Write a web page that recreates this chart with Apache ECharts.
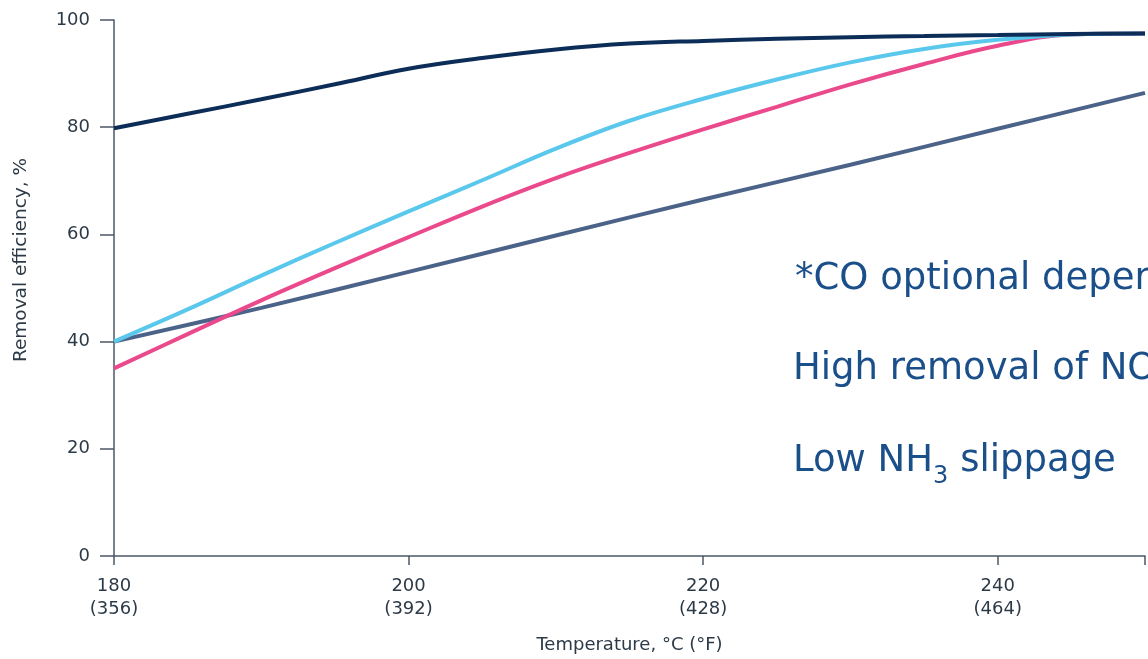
<!DOCTYPE html>
<html>
<head>
<meta charset="utf-8">
<script src="https://cdn.jsdelivr.net/npm/echarts@6/dist/echarts.min.js"></script>
<style>
html,body{margin:0;padding:0;background:#fff;overflow:hidden;}
#c{width:1148px;height:659px;}
</style>
</head>
<body>
<div id="c"></div>
<script>
// Temperature, °C
const xTicksC = [180, 200, 220, 240];
const xTicksF = {180: 356, 200: 392, 220: 428, 240: 464};
const yTicks = [0, 20, 40, 60, 80, 100];

// Series: [temperature °C, removal efficiency %]
const navyLine = [[180,79.8],[185,82.5],[190,85.2],[195,88],[200,90.9],[205,92.9],[210,94.5],[215,95.6],[220,96.1],[225,96.5],[230,96.8],[235,97],[240,97.2],[245,97.4],[250,97.5]];
const cyanLine = [[180,40],[185,46],[190,52.3],[195,58.4],[200,64.3],[205,70.1],[210,76],[215,81.2],[220,85.3],[225,88.9],[230,92.1],[235,94.6],[240,96.3],[245,97.3],[250,97.5]];
const pinkLine = [[180,35],[185,41.4],[190,47.7],[195,53.7],[200,59.5],[205,65.2],[210,70.5],[215,75.2],[220,79.6],[225,83.8],[230,88],[235,91.8],[240,95.2],[245,97.3],[250,97.5]];
const slateLine = [[180,40],[190,46.3],[200,53],[210,59.8],[220,66.5],[230,73],[240,79.7],[250,86.4]];

const axisColor = '#4a5866';
const textColor = '#2c3a48';
const font = '"DejaVu Sans", Verdana, sans-serif';
const blue = '#1a4f8a';

const chart = echarts.init(document.getElementById('c'), null, {renderer: 'canvas'});
function mk(name, data, color) {
  return {name, type: 'line', data, smooth: 0.4, symbol: 'none',
    lineStyle: {color, width: 4}, z: 3};
}
chart.setOption({
  animation: false,
  grid: {left: 114, top: 20, width: 1036, bottom: 103, containLabel: false},
  xAxis: {
    type: 'value', min: 180, max: 250, interval: 20,
    axisLine: {show: true, lineStyle: {color: axisColor, width: 1.5}},
    axisTick: {show: true, length: 9, lineStyle: {color: axisColor, width: 1.5}},
    splitLine: {show: false},
    axisLabel: {
      margin: 19, color: textColor, fontFamily: font, fontSize: 18, lineHeight: 23,
      formatter: v => xTicksF[v] !== undefined ? v + '\n(' + xTicksF[v] + ')' : ''
    },
    name: 'Temperature, °C (°F)', nameLocation: 'middle', nameGap: 80,
    nameTextStyle: {color: textColor, fontFamily: font, fontSize: 18}
  },
  yAxis: {
    type: 'value', min: 0, max: 100, interval: 20,
    axisLine: {show: true, lineStyle: {color: axisColor, width: 1.5}},
    axisTick: {show: true, length: 14, lineStyle: {color: axisColor, width: 1.5}},
    splitLine: {show: false},
    axisLabel: {margin: 24, color: textColor, fontFamily: font, fontSize: 18}
  },
  graphic: [
    {type: 'text', x: 21, y: 260, rotation: Math.PI/2,
     style: {text: 'Removal efficiency, %', fill: textColor, fontFamily: font, fontSize: 18.5,
       align: 'center', verticalAlign: 'middle'}},
    {type: 'text', x: 795, y: 279, style: {text: '*CO optional dependent', fill: blue,
      fontFamily: font, fontSize: 37, verticalAlign: 'middle'}},
    {type: 'text', x: 793, y: 369, style: {text: 'High removal of NOx', fill: blue,
      fontFamily: font, fontSize: 37, verticalAlign: 'middle'}},
    {type: 'text', x: 793, y: 457, style: {
      text: '{a|Low NH}{s|3}{a| slippage}', fill: blue, verticalAlign: 'middle',
      rich: {
        a: {fontSize: 37, fontFamily: font, fill: blue, verticalAlign: 'bottom', lineHeight: 45},
        s: {fontSize: 24, fontFamily: font, fill: blue, verticalAlign: 'bottom', lineHeight: 30, padding: [0,0,-9,0]}
      }}}
  ],
  series: [
    mk('slate', slateLine, '#4b6388'),
    mk('pink', pinkLine, '#ea4a8c'),
    mk('cyan', cyanLine, '#5ac8ec'),
    mk('navy', navyLine, '#0b2d57')
  ]
});
</script>
</body>
</html>
